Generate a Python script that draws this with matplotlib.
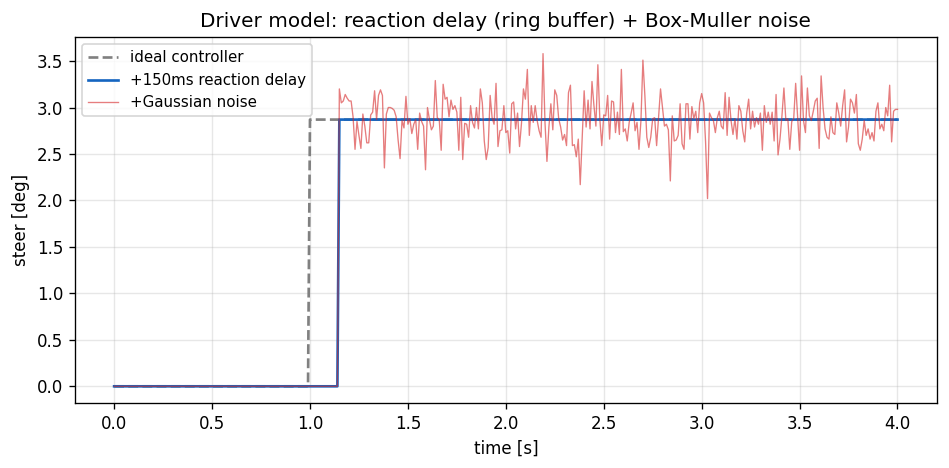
import numpy as np
import matplotlib
matplotlib.use("Agg")
import matplotlib.pyplot as plt

dt = 0.01
t_end = 4.0
step_time = 1.0
delay = 0.15
step_level = 2.87

noise_values = [
    3.20, 3.05, 3.07, 3.14, 3.10, 3.07, 3.07, 2.90, 2.55, 2.85, 2.70, 2.56, 2.93, 2.80, 2.62, 2.62,
    2.92, 2.95, 3.18, 2.87, 3.13, 3.19, 3.13, 2.35, 2.93, 3.00, 3.00, 2.99, 2.97, 2.90, 2.65, 2.45,
    2.86, 2.78, 3.12, 2.82, 2.88, 2.72, 2.82, 2.87, 2.55, 2.94, 2.85, 2.80, 2.33, 3.00,
    2.87, 2.76, 2.80, 3.29, 2.89, 2.87, 2.54, 3.25, 3.09, 3.11, 2.90, 3.08, 2.98, 3.02, 2.95, 2.54,
    3.11, 2.44, 2.83, 2.82, 2.68, 3.02, 2.84, 2.78, 3.00, 2.77, 3.20, 3.05, 2.64, 2.44, 2.57, 3.13,
    2.89, 2.82, 3.26, 2.58, 2.75, 2.76, 3.02, 2.73, 2.75, 2.51, 3.04, 3.06, 2.77, 2.94, 2.58, 2.83, 3.20,
    3.09, 3.41, 2.70, 3.02, 2.84, 3.02, 2.86, 2.75, 2.68, 3.58, 2.84, 2.42, 2.79, 3.04, 2.76, 3.19,
    3.13, 2.88, 2.79, 2.65, 2.71, 2.59, 3.16, 3.24, 2.59, 2.60, 2.47, 2.66, 2.17, 2.68, 3.18, 2.79,
    3.08, 2.77, 3.28, 3.02, 2.80, 3.46, 2.88, 2.59, 2.92, 2.91, 3.13, 2.66, 3.07, 3.06, 2.73, 2.95,
    2.71, 3.41, 2.74, 2.77, 2.64, 2.84, 2.94, 3.05, 2.75, 2.84, 2.55, 2.86, 3.51, 3.13, 2.68, 2.57,
    2.68, 2.88, 2.89, 2.59, 2.89, 3.20, 3.00, 2.80, 2.82, 2.76, 2.21, 2.91, 2.64, 2.65, 2.70, 3.04,
    2.61, 2.55, 3.04, 3.04, 2.66, 3.01, 2.88, 2.96, 2.73, 3.05, 3.15, 3.05, 2.63, 2.02, 2.94, 2.89,
    2.86, 2.73, 2.89, 2.96, 2.80, 2.77, 3.16, 2.70, 3.11, 2.86, 2.71, 2.88, 2.66, 3.02, 2.96, 2.75,
    2.63, 2.94, 3.09, 2.77, 2.96, 2.79, 2.89, 2.82, 2.94, 2.54, 3.02, 2.84, 2.95, 2.82, 2.95, 2.64,
    3.14, 2.49, 2.66, 2.91, 3.21, 2.86, 2.88, 2.55, 2.85, 2.88, 3.26, 2.89, 2.54, 3.34, 2.86, 2.73, 3.21,
    2.91, 2.86, 2.96, 3.07, 3.10, 2.56, 3.34, 3.00, 2.77, 2.68, 2.66, 2.90, 2.73, 2.71, 3.05, 2.94,
    2.80, 3.02, 3.19, 2.63, 2.79, 3.09, 3.05, 2.94, 3.14, 2.61, 2.54, 2.66, 2.86, 2.70, 2.77, 2.66,
    2.73, 2.64, 2.96, 3.05, 2.77, 2.82, 2.75, 3.00, 2.91, 3.24, 2.63, 2.96, 2.98, 2.98,
]

n = int(round(t_end / dt)) + 1
t = np.arange(n) * dt
ideal = np.where(t >= step_time - 1e-9, step_level, 0.0)
delayed = np.where(t >= step_time + delay - 1e-9, step_level, 0.0)
noisy = np.zeros(n)
start = n - len(noise_values)
noisy[start:] = noise_values

fig = plt.figure(figsize=(949 / 120, 468 / 120), dpi=120)
ax = fig.add_axes([0.079, 0.139, 0.908, 0.782])

ax.plot(t, ideal, color="#808080", ls="--", lw=1.6, label="ideal controller")
ax.plot(t, delayed, color="#1565c0", lw=1.6, label="+150ms reaction delay")
ax.plot(t, noisy, color="#d62728", lw=0.8, alpha=0.6, label="+Gaussian noise")

ax.set_title("Driver model: reaction delay (ring buffer) + Box-Muller noise", fontsize=12)
ax.set_xlabel("time [s]")
ax.set_ylabel("steer [deg]")
ax.grid(True, alpha=0.3)
ax.legend(loc="upper left", fontsize=9)

fig.savefig("out.png", dpi=120)
